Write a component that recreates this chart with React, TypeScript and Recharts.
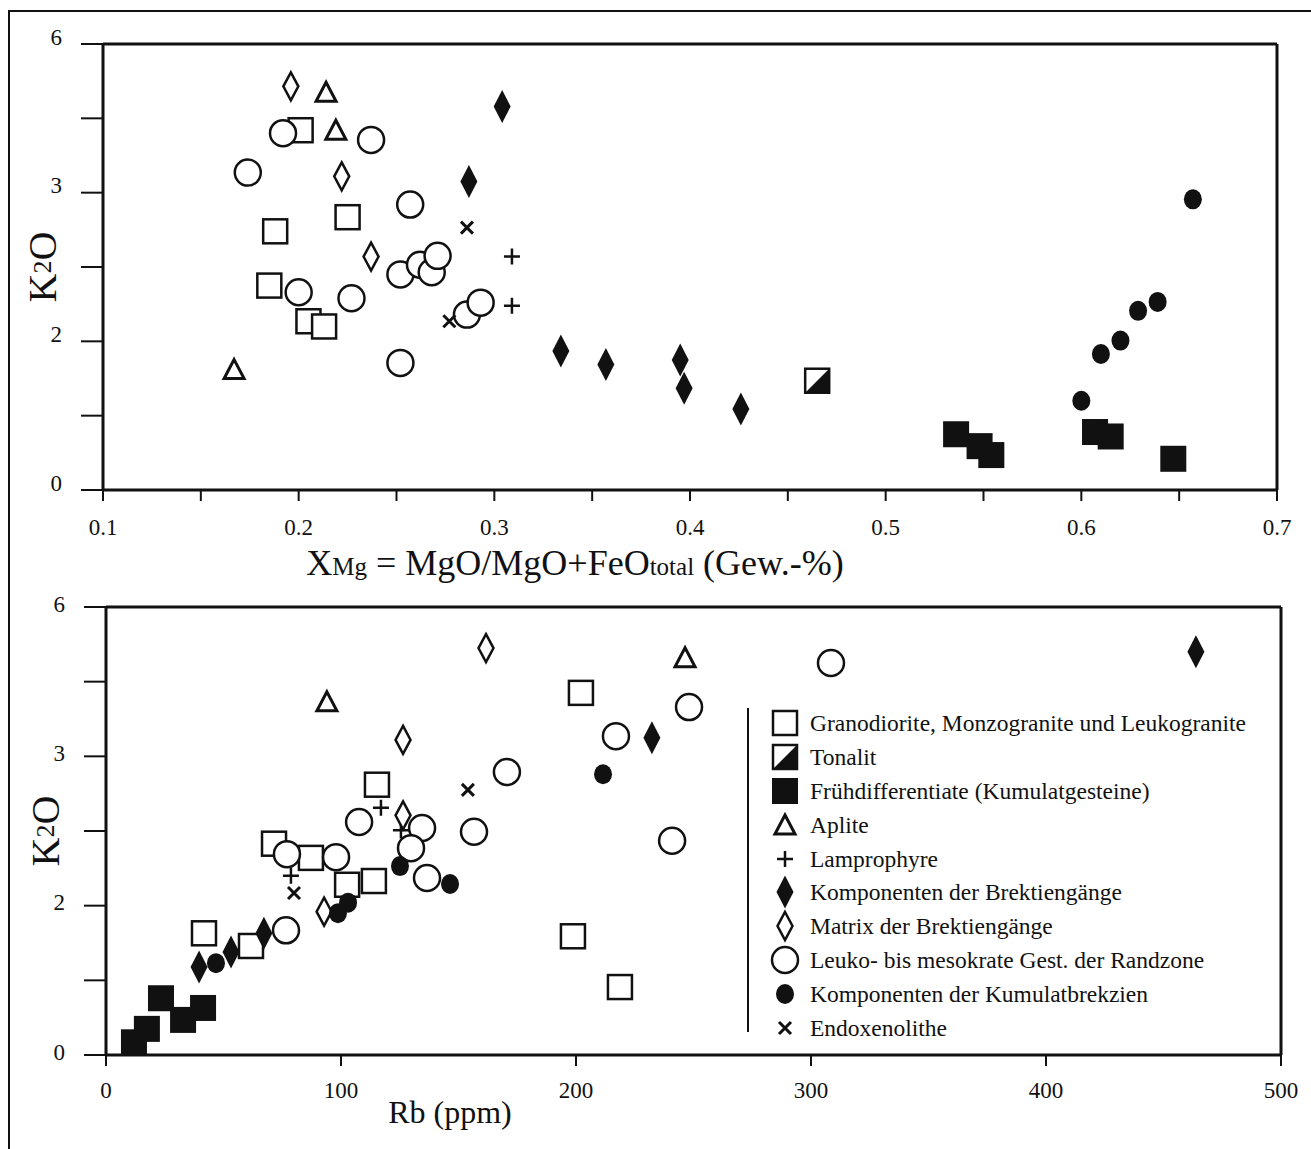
import React from 'react'
import { ScatterChart, Scatter, XAxis, YAxis, ReferenceLine, Label } from 'recharts'

type Pt = [number, number]
type Kind =
  | 'openSquare'
  | 'tonalit'
  | 'filledSquare'
  | 'triangle'
  | 'plus'
  | 'filledDiamond'
  | 'openDiamond'
  | 'openCircle'
  | 'filledCircle'
  | 'cross'

const SERIF = '"Liberation Serif", "DejaVu Serif", serif'
const INK = '#111'

// upper plot: K2O against XMg
const granoXmg: Pt[] = [[0.201, 4.84], [0.188, 3.48], [0.225, 3.67], [0.185, 2.75], [0.205, 2.27], [0.213, 2.2]]
const tonalitXmg: Pt[] = [[0.465, 1.47]]
const fruehXmg: Pt[] = [[0.536, 0.75], [0.548, 0.59], [0.554, 0.47], [0.607, 0.78], [0.615, 0.72], [0.647, 0.42]]
const apliteXmg: Pt[] = [[0.214, 5.35], [0.219, 4.84], [0.167, 1.62]]
const lamproXmg: Pt[] = [[0.309, 3.14], [0.309, 2.48]]
const kompBrekXmg: Pt[] = [[0.304, 5.16], [0.287, 4.15], [0.334, 1.87], [0.357, 1.69], [0.395, 1.75], [0.397, 1.37], [0.426, 1.09]]
const matrixXmg: Pt[] = [[0.196, 5.43], [0.222, 4.22], [0.237, 3.14]]
const leukoXmg: Pt[] = [
  [0.192, 4.8], [0.174, 4.27], [0.237, 4.71], [0.257, 3.84], [0.2, 2.66], [0.227, 2.58], [0.252, 2.9],
  [0.262, 3.03], [0.268, 2.93], [0.271, 3.15], [0.252, 1.71], [0.286, 2.36], [0.293, 2.52],
]
const kumulXmg: Pt[] = [[0.6, 1.2], [0.61, 1.83], [0.62, 2.01], [0.629, 2.41], [0.639, 2.53], [0.657, 3.91]]
const endoXmg: Pt[] = [[0.286, 3.53], [0.277, 2.27]]

// lower plot: K2O against Rb
const granoRb: Pt[] = [
  [41.7, 1.63], [71.5, 2.83], [87.2, 2.64], [102.6, 2.28], [114, 2.33], [115.3, 3.62], [61.7, 1.46],
  [202.1, 4.85], [198.7, 1.59], [218.7, 0.91],
]
const tonalitRb: Pt[] = []
const fruehRb: Pt[] = [[11.9, 0.17], [17.4, 0.35], [23.4, 0.76], [32.8, 0.47], [41.3, 0.63]]
const apliteRb: Pt[] = [[94, 4.73], [246.4, 5.32]]
const lamproRb: Pt[] = [[117, 3.31], [78.7, 2.4], [125.5, 3.01]]
const kompBrekRb: Pt[] = [[39.6, 1.18], [53.2, 1.38], [67.2, 1.63], [232.3, 4.25], [463.8, 5.4]]
const matrixRb: Pt[] = [[161.7, 5.45], [126.4, 4.22], [126.4, 3.21], [92.8, 1.92]]
const leukoRb: Pt[] = [
  [77, 2.69], [76.6, 1.67], [97.9, 2.65], [107.7, 3.12], [134.5, 3.04], [129.8, 2.77], [136.6, 2.37],
  [170.6, 3.79], [156.6, 2.99], [217, 4.27], [248.1, 4.66], [240.9, 2.87], [308.5, 5.25],
]
const kumulRb: Pt[] = [[46.8, 1.23], [98.7, 1.9], [103, 2.04], [125.1, 2.53], [146.4, 2.29], [211.5, 3.76]]
const endoRb: Pt[] = [[80, 2.17], [154, 3.55]]

const seriesNames = [
  'Granodiorite, Monzogranite und Leukogranite',
  'Tonalit',
  'Frühdifferentiate (Kumulatgesteine)',
  'Aplite',
  'Lamprophyre',
  'Komponenten der Brektiengänge',
  'Matrix der Brektiengänge',
  'Leuko- bis mesokrate Gest. der Randzone',
  'Komponenten der Kumulatbrekzien',
  'Endoxenolithe',
]
const seriesKinds: Kind[] = [
  'openSquare', 'tonalit', 'filledSquare', 'triangle', 'plus',
  'filledDiamond', 'openDiamond', 'openCircle', 'filledCircle', 'cross',
]
const xmgSeries = [granoXmg, tonalitXmg, fruehXmg, apliteXmg, lamproXmg, kompBrekXmg, matrixXmg, leukoXmg, kumulXmg, endoXmg]
const rbSeries = [granoRb, tonalitRb, fruehRb, apliteRb, lamproRb, kompBrekRb, matrixRb, leukoRb, kumulRb, endoRb]

const xmgTicks = [0.1, 0.15, 0.2, 0.25, 0.3, 0.35, 0.4, 0.45, 0.5, 0.55, 0.6, 0.65, 0.7]
const xmgTickLabels = ['0.1', '', '0.2', '', '0.3', '', '0.4', '', '0.5', '', '0.6', '', '0.7']
const rbTicks = [0, 100, 200, 300, 400, 500]
const rbTickLabels = ['0', '100', '200', '300', '400', '500']
const k2oTicks = [0, 1, 2, 3, 4, 5, 6]
const k2oTickLabels = ['0', '', '2', '', '3', '', '6']

const toPts = (arr: Pt[]) => arr.map(([x, y]) => ({ x, y }))

function Marker({ kind, cx, cy }: { kind: Kind; cx: number; cy: number }) {
  switch (kind) {
    case 'openSquare':
      return <rect x={cx - 12} y={cy - 12} width={24} height={24} fill="#fff" stroke={INK} strokeWidth={2.5} />
    case 'tonalit':
      return (
        <g>
          <rect x={cx - 12} y={cy - 12} width={24} height={24} fill="#fff" stroke={INK} strokeWidth={2.5} />
          <polygon points={`${cx + 12},${cy - 12} ${cx + 12},${cy + 12} ${cx - 12},${cy + 12}`} fill={INK} />
        </g>
      )
    case 'filledSquare':
      return <rect x={cx - 13} y={cy - 13} width={26} height={26} fill={INK} />
    case 'triangle':
      return (
        <polygon
          points={`${cx},${cy - 10} ${cx + 10},${cy + 9} ${cx - 10},${cy + 9}`}
          fill="#fff"
          stroke={INK}
          strokeWidth={3}
        />
      )
    case 'plus':
      return <path d={`M${cx - 8},${cy}H${cx + 8}M${cx},${cy - 8}V${cy + 8}`} stroke={INK} strokeWidth={2.5} />
    case 'filledDiamond':
      return <polygon points={`${cx},${cy - 16.5} ${cx + 8.5},${cy} ${cx},${cy + 16.5} ${cx - 8.5},${cy}`} fill={INK} />
    case 'openDiamond':
      return (
        <polygon
          points={`${cx},${cy - 14} ${cx + 7.5},${cy} ${cx},${cy + 14} ${cx - 7.5},${cy}`}
          fill="#fff"
          stroke={INK}
          strokeWidth={2.5}
        />
      )
    case 'openCircle':
      return <circle cx={cx} cy={cy} r={13} fill="#fff" stroke={INK} strokeWidth={2.5} />
    case 'filledCircle':
      return <ellipse cx={cx} cy={cy} rx={9} ry={10} fill={INK} />
    case 'cross':
      return (
        <path
          d={`M${cx - 6},${cy - 6}L${cx + 6},${cy + 6}M${cx + 6},${cy - 6}L${cx - 6},${cy + 6}`}
          stroke={INK}
          strokeWidth={3}
        />
      )
  }
  return null
}

const shapeOf = (kind: Kind) => (p: any) => <Marker kind={kind} cx={p.cx} cy={p.cy} />

const xTick = (labels: string[]) => (p: any) => (
  <text x={p.x} y={p.y} dy="0.71em" textAnchor="middle" fontSize={23} fontFamily={SERIF} fill={INK}>
    {labels[p.index] ?? ''}
  </text>
)

const yTick = (labels: string[], lift: number) => (p: any) => (
  <text x={p.x} y={p.y - lift} textAnchor="end" dominantBaseline="central" fontSize={23} fontFamily={SERIF} fill={INK}>
    {labels[p.index] ?? ''}
  </text>
)

const K2oTitle = (p: any) => {
  const vb = p.viewBox
  const cx = vb.x + 19
  const cy = vb.y + vb.height / 2
  return (
    <text
      x={cx}
      y={cy}
      transform={`rotate(-90 ${cx} ${cy})`}
      textAnchor="middle"
      dominantBaseline="central"
      fontSize={40}
      fontFamily={SERIF}
      fill={INK}
    >
      K<tspan fontSize={26}>2</tspan>O
    </text>
  )
}

const XmgTitle = (p: any) => {
  const vb = p.viewBox
  return (
    <text x={vb.x + 472} y={vb.y + 85} textAnchor="middle" fontSize={36} fontFamily={SERIF} fill={INK}>
      X<tspan fontSize={25}>Mg</tspan> = MgO/MgO+FeO<tspan fontSize={25}>total</tspan> (Gew.-%)
    </text>
  )
}

const RbTitle = (p: any) => {
  const vb = p.viewBox
  return (
    <text x={vb.x + 344} y={vb.y + 68} textAnchor="middle" fontSize={32} fontFamily={SERIF} fill={INK}>
      Rb (ppm)
    </text>
  )
}

const axisLine = { stroke: INK, strokeWidth: 3 }
const tickLine = { stroke: INK, strokeWidth: 2 }

export default function App() {
  return (
    <div style={{ position: 'absolute', left: 0, top: 0, width: 1311, height: 1149, background: '#fff', fontFamily: SERIF }}>
      <div
        style={{
          position: 'absolute',
          left: 8,
          top: 10,
          width: 1303,
          height: 1139,
          borderLeft: `2px solid ${INK}`,
          borderTop: `2px solid ${INK}`,
          boxSizing: 'border-box',
        }}
      />

      <div style={{ position: 'absolute', left: 0, top: 0 }}>
        <ScatterChart width={1311} height={600} margin={{ top: 44, right: 34, bottom: 50, left: 23 }}>
          <XAxis
            type="number"
            dataKey="x"
            domain={[0.1, 0.7]}
            ticks={xmgTicks}
            interval={0}
            height={60}
            tickSize={11}
            tickMargin={18}
            axisLine={axisLine}
            tickLine={tickLine}
            tick={xTick(xmgTickLabels)}
            allowDataOverflow
          >
            <Label content={XmgTitle} />
          </XAxis>
          <YAxis
            type="number"
            dataKey="y"
            domain={[0, 6]}
            ticks={k2oTicks}
            interval={0}
            width={80}
            tickSize={22}
            tickMargin={19}
            axisLine={axisLine}
            tickLine={tickLine}
            tick={yTick(k2oTickLabels, 7)}
            allowDataOverflow
          >
            <Label content={K2oTitle} />
          </YAxis>
          <ReferenceLine y={6} stroke={INK} strokeWidth={3} />
          <ReferenceLine x={0.7} stroke={INK} strokeWidth={3} />
          {seriesNames.map((name, i) => (
            <Scatter
              key={name}
              name={name}
              data={toPts(xmgSeries[i])}
              shape={shapeOf(seriesKinds[i])}
              isAnimationActive={false}
            />
          ))}
        </ScatterChart>
      </div>

      <div style={{ position: 'absolute', left: 0, top: 580 }}>
        <ScatterChart width={1311} height={569} margin={{ top: 27, right: 30, bottom: 34, left: 26 }}>
          <XAxis
            type="number"
            dataKey="x"
            domain={[0, 500]}
            ticks={rbTicks}
            interval={0}
            height={60}
            tickSize={11}
            tickMargin={16}
            axisLine={axisLine}
            tickLine={tickLine}
            tick={xTick(rbTickLabels)}
            allowDataOverflow
          >
            <Label content={RbTitle} />
          </XAxis>
          <YAxis
            type="number"
            dataKey="y"
            domain={[0, 6]}
            ticks={k2oTicks}
            interval={0}
            width={80}
            tickSize={22}
            tickMargin={19}
            axisLine={axisLine}
            tickLine={tickLine}
            tick={yTick(k2oTickLabels, 3)}
            allowDataOverflow
          >
            <Label content={K2oTitle} />
          </YAxis>
          <ReferenceLine y={6} stroke={INK} strokeWidth={3} />
          <ReferenceLine x={500} stroke={INK} strokeWidth={3} />
          {seriesNames.map((name, i) => (
            <Scatter
              key={name}
              name={name}
              data={toPts(rbSeries[i])}
              shape={shapeOf(seriesKinds[i])}
              isAnimationActive={false}
            />
          ))}
        </ScatterChart>
      </div>

      {/* legend of the lower plot */}
      <div style={{ position: 'absolute', left: 747, top: 708, width: 2, height: 324, background: INK }} />
      <div style={{ position: 'absolute', left: 749, top: 706 }}>
        {seriesNames.map((name, i) => (
          <div key={name} style={{ display: 'flex', alignItems: 'center', height: 33.9 }}>
            <svg width={34} height={34} style={{ marginLeft: 19, flex: 'none' }}>
              <Marker kind={seriesKinds[i]} cx={17} cy={17} />
            </svg>
            <span style={{ marginLeft: 8, fontSize: 23.5, color: INK, whiteSpace: 'nowrap', lineHeight: '34px' }}>{name}</span>
          </div>
        ))}
      </div>
    </div>
  )
}
